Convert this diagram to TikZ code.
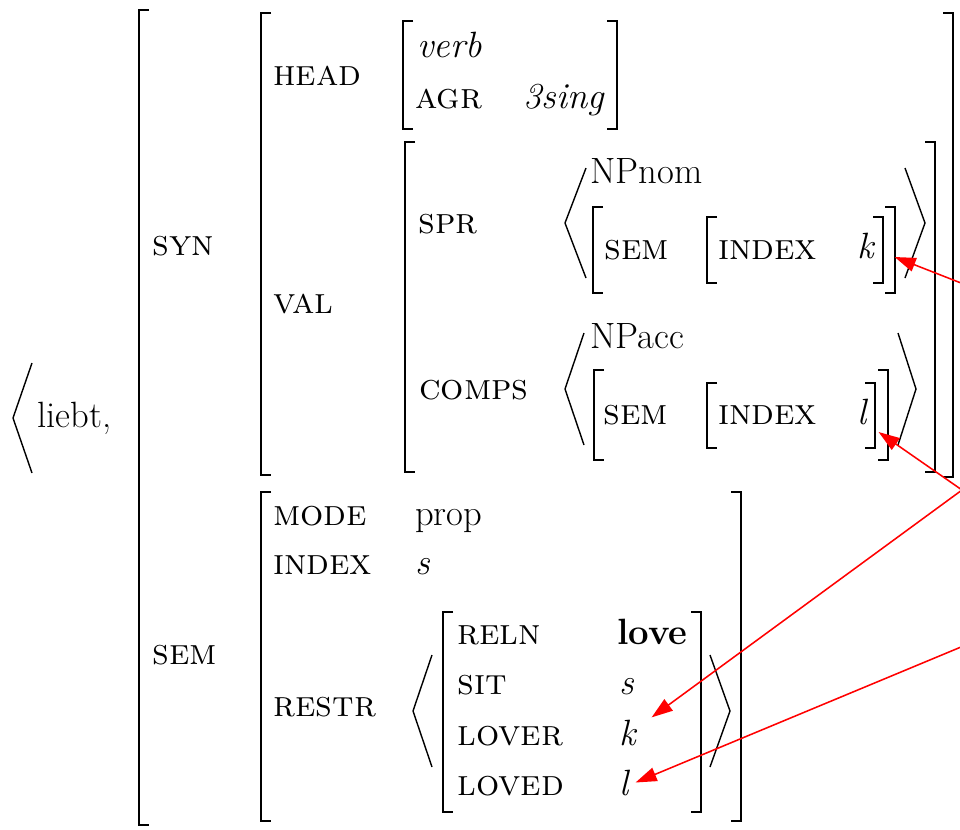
\documentclass[tikz,border=0pt]{standalone}
\usepackage{fontspec}
\usetikzlibrary{arrows.meta,calc}
\tikzset{feat/.style={anchor=base west, inner sep=0pt, font=\fontsize{26}{31}\selectfont\scshape},
         val/.style={anchor=base west, inner sep=0pt, font=\fontsize{26}{31}\selectfont},
         brk/.style={line width=1.4pt},
         ang/.style={line width=1pt}}
\tikzstyle{link}=[->, red, line width=1.1pt]
% square brackets: x, top, bottom
\newcommand{\avmL}[3]{\draw[brk] (#1+10,#2) -- (#1,#2) -- (#1,#3) -- (#1+10,#3);}
\newcommand{\avmR}[3]{\draw[brk] (#1-10,#2) -- (#1,#2) -- (#1,#3) -- (#1-10,#3);}
% angle brackets: tip x, end x, top, bottom
\newcommand{\angL}[4]{\draw[ang] (#2,#3) -- (#1,{(#3+#4)/2}) -- (#2,#4);}
\newcommand{\angR}[4]{\draw[ang] (#2,#3) -- (#1,{(#3+#4)/2}) -- (#2,#4);}
\begin{document}
\begin{tikzpicture}[x=0.025cm, y=-0.025cm, >={Triangle[length=15pt,width=10pt]}]
\useasboundingbox (0,0) rectangle (960,829);
% word
\angL{13}{32}{363}{473}
\node[val] (liebt) at (37,427) {liebt,};
\avmL{139}{10}{825}
\node[feat] (syn) at (152,255) {syn};
\node[feat] (sem) at (152,664) {sem};
% SYN
\avmL{261}{13}{475}
\avmR{953}{13}{477}
\node[feat] (head) at (273,85) {head};
\node[feat] (val) at (273,313) {val};
\avmL{403}{21}{129}
\avmR{617}{21}{129}
\node[val] (verb) at (417,57) {\textit{verb}};
\node[feat] (agr) at (415,108) {agr};
\node[val] (sing) at (523,108) {\textit{3sing}};
\avmL{405}{142}{472}
\avmR{935}{142}{472}
\node[feat] (spr) at (418,233) {spr};
\node[feat] (comps) at (419,399) {comps};
% SPR list
\angL{565}{586}{168}{278}
\angR{925}{905}{168}{278}
\node[val] (npnom) at (590,183) {NPnom};
\avmL{593}{207}{293}
\avmR{895}{207}{293}
\node[feat] (sprsem) at (604,259) {sem};
\avmL{707}{217}{283}
\avmR{883}{217}{283}
\node[feat] (sprindex) at (718,259) {index};
\node[val] (ksp) at (857,258) {\textit{k}};
% COMPS list
\angL{565}{584}{333}{445}
\angR{916}{898}{333}{445}
\node[val] (npacc) at (590,348) {NPacc};
\avmL{594}{370}{460}
\avmR{888}{370}{460}
\node[feat] (compsem) at (603,424) {sem};
\avmL{707}{383}{448}
\avmR{875}{383}{448}
\node[feat] (compindex) at (718,424) {index};
\node[val] (lcomp) at (857,424) {\textit{l}};
% SEM
\avmL{261}{492}{821}
\avmR{741}{492}{821}
\node[feat] (mode) at (273,525) {mode};
\node[val] (prop) at (415,525) {prop};
\node[feat] (index) at (273,574) {index};
\node[val] (sidx) at (415,574) {\textit{s}};
\node[feat] (restr) at (273,716) {restr};
\angL{413}{432}{655}{767}
\angR{730}{710}{655}{767}
\avmL{443}{612}{812}
\avmR{701}{612}{812}
\node[feat] (reln) at (457,644) {reln};
\node[val] (love) at (617,644) {\textbf{love}};
\node[feat] (sit) at (457,694) {sit};
\node[val] (ssit) at (619,694) {\textit{s}};
\node[feat] (lover) at (457,745) {lover};
\node[val] (klover) at (619,745) {\textit{k}};
\node[feat] (loved) at (457,795) {loved};
\node[val] (lloved) at (619,795) {\textit{l}};
% links
\coordinate (srcA) at (961,283);
\coordinate (srcB) at (962,490);
\coordinate (srcC) at (961,647);
\draw[link] (srcA) -- ($(ksp.base east)+(19,-1)$);
\draw[link] (srcB) -- ($(lcomp.base east)+(10,8)$);
\draw[link] (srcB) -- ($(klover.north east)+(14,-2)$);
\draw[link] (srcC) -- ($(lloved.east)+(5,0)$);
\end{tikzpicture}
\end{document}
